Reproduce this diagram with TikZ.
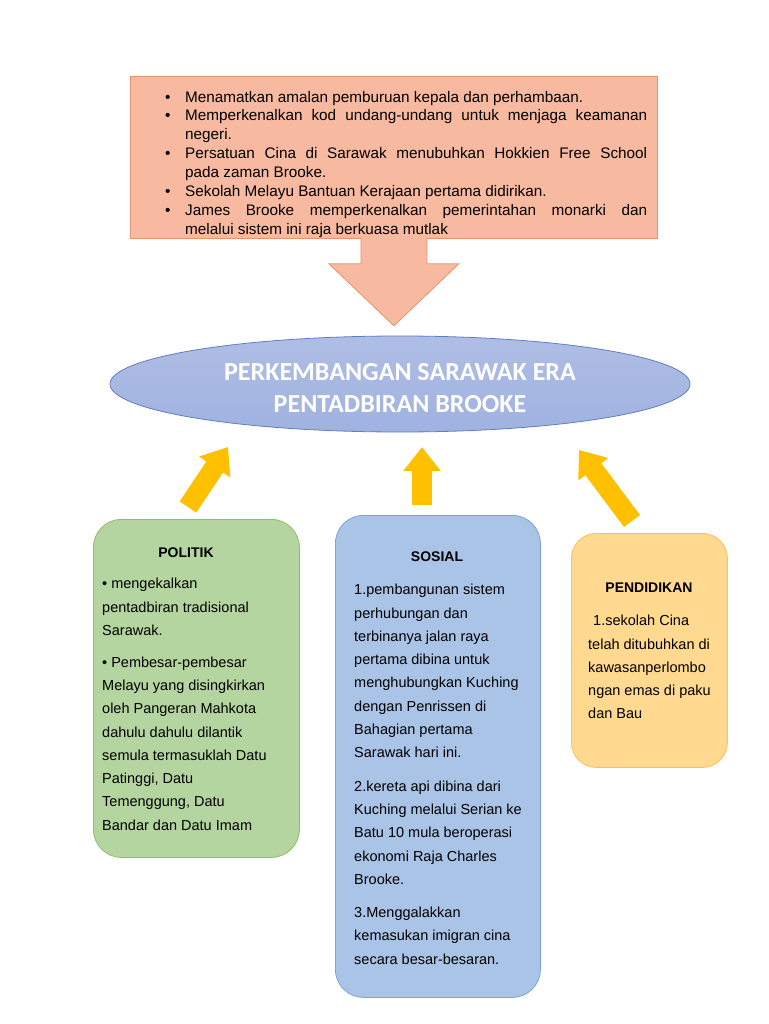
\documentclass[tikz,border=0pt]{standalone}
\usepackage{fontspec}
\setmainfont{Liberation Sans}
\newfontfamily\tajukfont{Carlito}
\usetikzlibrary{positioning,calc}
\usetikzlibrary{arrows.meta,shapes.geometric}
\definecolor{SalmonFill}{RGB}{247,186,160}
\definecolor{SalmonLine}{RGB}{232,146,112}
\definecolor{EraBlue}{RGB}{160,178,224}
\definecolor{EraLine}{RGB}{96,126,194}
\definecolor{KuningPanah}{RGB}{255,192,0}
\definecolor{HijauFill}{RGB}{181,213,160}
\definecolor{HijauLine}{RGB}{140,190,108}
\definecolor{BiruFill}{RGB}{170,196,231}
\definecolor{BiruLine}{RGB}{124,163,216}
\definecolor{JinggaFill}{RGB}{255,217,143}
\definecolor{JinggaLine}{RGB}{246,194,80}
\newcommand\butir[1]{\par\hangindent=20pt\hangafter=1\noindent\makebox[20pt][l]{\textbullet}#1}
\tikzset{
  kotak/.style={draw,line width=0.8pt,rounded corners=28pt,anchor=north west},
  tajuk/.style={font=\fontsize{14}{16}\selectfont\bfseries,anchor=base,inner sep=0pt},
  isi/.style={font=\fontsize{14.5}{23.3}\selectfont,align=left,inner sep=0pt,anchor=north west},
  panah/.style={draw=KuningPanah,line width=20pt,-{Triangle[width=36pt,length=24pt]}},
}

\begin{document}
\begin{tikzpicture}[x=1pt,y=-1pt]
\useasboundingbox (0,0) rectangle (768,1024);
% kotak atas
\node[draw=SalmonLine,fill=SalmonFill,line width=0.8pt,anchor=north west,
  minimum width=527pt,minimum height=162pt] (atas) at (130,76) {};
\node[anchor=north west,inner sep=0pt,text width=482pt,align=justify,
  font=\fontsize{15.3}{18.9}\selectfont] (senarai) at (165,83) {%
  \hyphenpenalty=10000\tolerance=10000
  \butir{Menamatkan amalan pemburuan kepala dan perhambaan.}
  \butir{Memperkenalkan kod undang-undang untuk menjaga keamanan\linebreak negeri.}
  \butir{Persatuan Cina di Sarawak menubuhkan Hokkien Free School\linebreak pada zaman Brooke.}
  \butir{Sekolah Melayu Bantuan Kerajaan pertama didirikan.}
  \butir{James Brooke memperkenalkan pemerintahan monarki dan\linebreak melalui sistem ini raja berkuasa mutlak}\par};
% tajuk utama
\node[ellipse,draw=EraLine,line width=0.8pt,top color=EraBlue!85!white,bottom color=EraBlue,
  minimum width=580pt,minimum height=96pt,text=white,align=center,
  font=\tajukfont\bfseries\fontsize{26}{32}\selectfont] (judul) at (400,384)
  {\rule{0pt}{25pt}PERKEMBANGAN SARAWAK ERA\\PENTADBIRAN BROOKE};
% panah besar
\coordinate (pangkal) at (atas.south);
\filldraw[fill=SalmonFill,draw=SalmonLine,line width=0.8pt]
  ($(pangkal)+(-33,-1)$) -- ++(0,26) -- ++(-32,0) -- ($(pangkal)+(0,87)$)
  -- ($(pangkal)+(65,25)$) -- ++(-32,0) -- ++(0,-26);
% tiga kotak
\node[kotak,draw=HijauLine,fill=HijauFill,minimum width=206pt,minimum height=338pt] (politik) at (93,519) {};
\node[kotak,draw=BiruLine,fill=BiruFill,minimum width=205pt,minimum height=482pt] (sosial) at (335,515) {};
\node[kotak,draw=JinggaLine,fill=JinggaFill,rounded corners=25pt,minimum width=156pt,minimum height=234pt] (pendidikan) at (571,533) {};
\node[tajuk] (tPolitik) at (186,557) {POLITIK};
\node[tajuk] (tSosial) at (437,561) {SOSIAL};
\node[tajuk] (tPendidikan) at (649,592) {PENDIDIKAN};
\node[isi] (iPolitik) at (102,578) {%
  \textbullet{} mengekalkan\\ pentadbiran tradisional\\ Sarawak.\\[8.5pt]
  \textbullet{} Pembesar-pembesar\\ Melayu yang disingkirkan\\ oleh Pangeran Mahkota\\
  dahulu dahulu dilantik\\ semula termasuklah Datu\\ Patinggi, Datu\\
  Temenggung, Datu\\ Bandar dan Datu Imam};
\node[isi] (iSosial) at (354,584) {%
  1.pembangunan sistem\\ perhubungan dan\\ terbinanya jalan raya\\ pertama dibina untuk\\
  menghubungkan Kuching\\ dengan Penrissen di\\ Bahagian pertama\\ Sarawak hari ini.\\[10pt]
  2.kereta api dibina dari\\ Kuching melalui Serian ke\\ Batu 10 mula beroperasi\\
  ekonomi Raja Charles\\ Brooke.\\[10pt]
  3.Menggalakkan\\ kemasukan imigran cina\\ secara besar-besaran.};
\node[isi] (iPendidikan) at (588,615) {%
  \hspace{5pt}1.sekolah Cina\\ telah ditubuhkan di\\ kawasanperlombo\\ ngan emas di paku\\ dan Bau};
% panah kuning
\coordinate (ekorA) at (188,507);
\coordinate (hujungA) at (228,447);
\coordinate (ekorB) at (422,505);
\coordinate (hujungB) at (422,447);
\coordinate (ekorC) at (632,521);
\coordinate (hujungC) at (579,450);
\draw[panah] (ekorA) -- (hujungA);
\draw[panah] (ekorB) -- (hujungB);
\draw[panah] (ekorC) -- (hujungC);
\end{tikzpicture}
\end{document}
